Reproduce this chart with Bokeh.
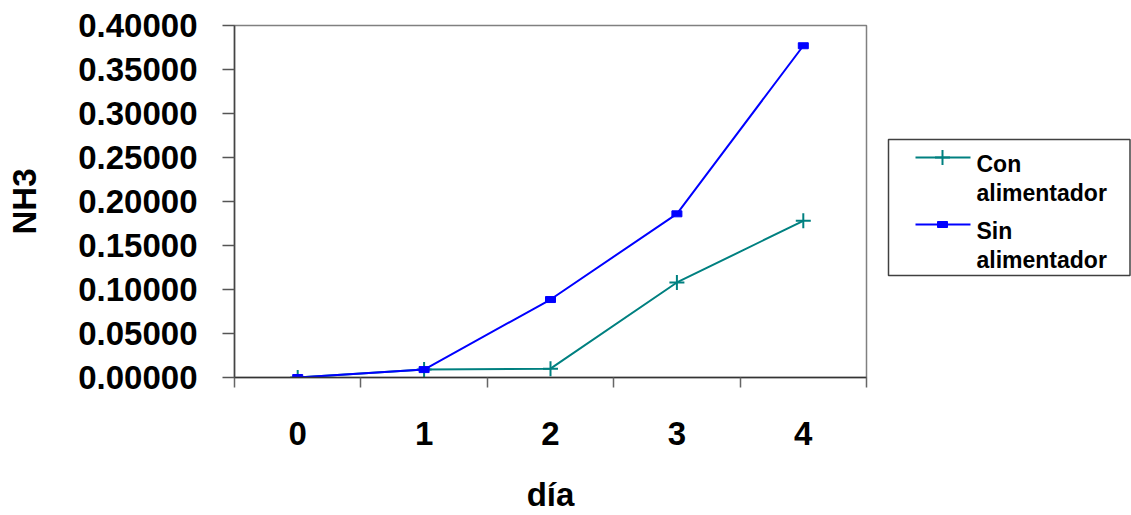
from bokeh.plotting import figure
from bokeh.layouts import row
from bokeh.models import Range1d, FixedTicker, NumeralTickFormatter, ColumnDataSource
from bokeh.core.properties import value
from bokeh.embed import file_html
from bokeh.resources import INLINE

# Data: NH3 per day, with and without feeder
dias = ["0", "1", "2", "3", "4"]
con_alimentador = [0.0, 0.009, 0.010, 0.108, 0.178]
sin_alimentador = [0.0, 0.009, 0.0886, 0.186, 0.377]
y_ticks = [0.0, 0.05, 0.10, 0.15, 0.20, 0.25, 0.30, 0.35, 0.40]

serie_con = "Con\nalimentador"
serie_sin = "Sin\nalimentador"
color_con = "#008080"
color_sin = "#0000FF"

FONT = "Liberation Sans"
TICK_SIZE = "33px"

# category centres on a numeric axis, boundaries get the tick marks
centers = [i + 0.5 for i in range(len(dias))]
bounds = list(range(len(dias) + 1))

p = figure(width=880, height=515, output_backend="svg", toolbar_location=None,
           x_range=Range1d(0, len(dias)), y_range=Range1d(0, 0.4),
           min_border_left=234, min_border_right=14, min_border_top=25,
           min_border_bottom=138)
p.background_fill_color = "white"
p.border_fill_color = "white"
p.outline_line_color = "#808080"
p.outline_line_width = 1.5
p.xgrid.visible = False
p.ygrid.visible = False

src = ColumnDataSource(dict(x=centers, con=con_alimentador, sin=sin_alimentador))

p.line("x", "con", source=src, line_color=color_con, line_width=2)
p.scatter("x", "con", source=src, marker="cross", size=15, line_color=color_con,
          line_width=2)
p.line("x", "sin", source=src, line_color=color_sin, line_width=2)
p.rect("x", "sin", width=10, height=6, width_units="screen", height_units="screen",
       source=src, fill_color=color_sin, line_color=color_sin)

# x axis: ticks at boundaries (minor), labels at centres
xa = p.xaxis[0]
xa.ticker = FixedTicker(ticks=centers, minor_ticks=bounds)
xa.major_label_overrides = {c: d for c, d in zip(centers, dias)}
xa.major_tick_line_color = None
xa.major_tick_out = 0
xa.major_tick_in = 0
xa.minor_tick_out = 10
xa.minor_tick_in = 0
xa.minor_tick_line_color = "#666666"
xa.minor_tick_line_width = 1.5
xa.axis_line_color = "#333333"
xa.axis_line_width = 1.5
xa.major_label_standoff = 34
xa.major_label_text_font = FONT
xa.major_label_text_font_style = "bold"
xa.major_label_text_font_size = TICK_SIZE
xa.major_label_text_color = "black"
xa.axis_label = "día"
xa.axis_label_text_font = FONT
xa.axis_label_text_font_style = "bold"
xa.axis_label_text_font_size = TICK_SIZE
xa.axis_label_text_color = "black"
xa.axis_label_standoff = 28

ya = p.yaxis[0]
ya.ticker = FixedTicker(ticks=y_ticks)
ya.formatter = NumeralTickFormatter(format="0.00000")
ya.major_tick_out = 12
ya.major_tick_in = 0
ya.minor_tick_line_color = None
ya.major_tick_line_color = "#555555"
ya.major_tick_line_width = 1.5
ya.axis_line_color = "#444444"
ya.axis_line_width = 1.5
ya.major_label_standoff = 25
ya.major_label_text_font = FONT
ya.major_label_text_font_style = "bold"
ya.major_label_text_font_size = TICK_SIZE
ya.major_label_text_color = "black"
ya.axis_label = "NH3"
ya.axis_label_text_font = FONT
ya.axis_label_text_font_style = "bold"
ya.axis_label_text_font_size = TICK_SIZE
ya.axis_label_text_color = "black"
ya.axis_label_standoff = 32

# legend panel; its frame lines up with the main frame (page y 25..377)
lg = figure(width=251, height=515, output_backend="svg", toolbar_location=None,
            x_range=Range1d(880, 1131), y_range=Range1d(377, 25),
            min_border=0, x_axis_type=None, y_axis_type=None)
lg.outline_line_color = None
lg.xgrid.visible = False
lg.ygrid.visible = False
lg.background_fill_color = "white"
lg.border_fill_color = "white"

lg.quad(left=[888], right=[1129.5], top=[139], bottom=[275],
        fill_color="white", line_color="#404040", line_width=1.5)

LEG_SIZE = "23px"
entries = [(serie_con, color_con, 157), (serie_sin, color_sin, 224)]
for label, color, ly in entries:
    lg.segment(x0=[915], y0=[ly], x1=[970], y1=[ly], line_color=color, line_width=2)
    first, second = label.split("\n")
    lg.text(x=[976], y=[ly + 6], text=[first], text_font=value(FONT),
            text_font_style="bold", text_font_size=LEG_SIZE,
            text_baseline="alphabetic", text_color="black")
    lg.text(x=[976], y=[ly + 35], text=[second], text_font=value(FONT),
            text_font_style="bold", text_font_size=LEG_SIZE,
            text_baseline="alphabetic", text_color="black")

lg.scatter(x=[942], y=[157], marker="cross", size=15, line_color=color_con, line_width=2)
lg.rect(x=[942], y=[224], width=10, height=6, width_units="screen",
        height_units="screen", fill_color=color_sin, line_color=color_sin)

layout = row(p, lg, spacing=0)
open("out.html", "w").write(file_html(layout, INLINE))
